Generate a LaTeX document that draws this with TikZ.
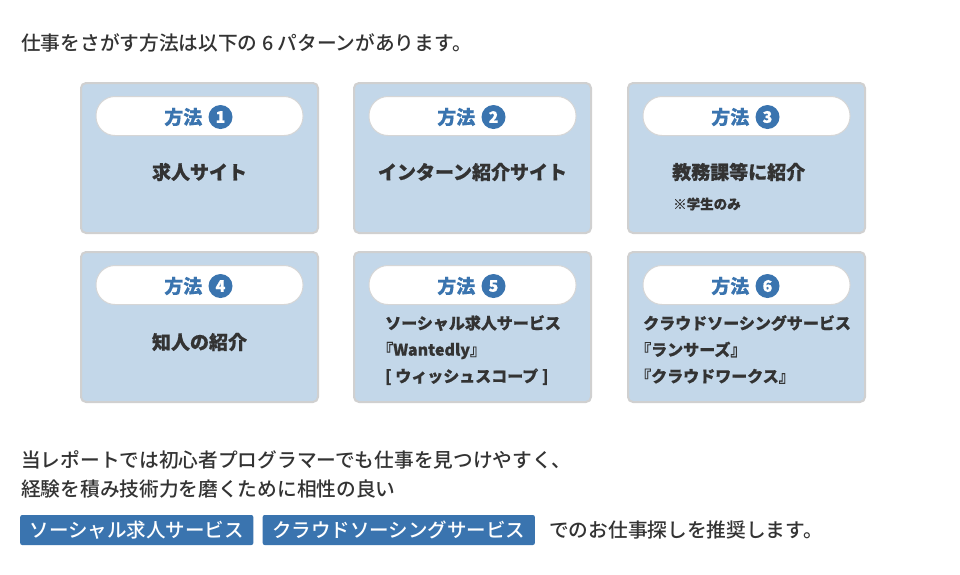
\documentclass[tikz,border=0pt]{standalone}
\usepackage{fontspec}
\setmainfont{Noto Sans CJK JP}
\newfontfamily\medfont{Noto Sans CJK JP Medium}
\newfontfamily\heavyfont{Noto Sans CJK JP}[BoldFeatures={FakeBold=0.6}]
\usetikzlibrary{positioning}
\definecolor{boxblue}{HTML}{C3D7E9}
\definecolor{boxedge}{HTML}{D0D0D0}
\definecolor{pilledge}{HTML}{D6D6D6}
\definecolor{accent}{HTML}{3A74AF}
\definecolor{ink}{HTML}{333333}
\begin{document}
\begin{tikzpicture}[x=1pt,y=-1pt,
  card/.style={draw=boxedge,line width=2pt,fill=boxblue,rounded corners=5pt,
    minimum width=237pt,minimum height=150pt,inner sep=0pt},
  pill/.style={draw=pilledge,line width=1pt,fill=white,rounded corners=19pt,
    minimum width=207pt,minimum height=39pt,inner sep=0pt},
  hofo/.style={text=accent,font=\heavyfont\bfseries\fontsize{19}{19}\selectfont,inner sep=0pt,anchor=east},
  numc/.style={circle,fill=accent,text=white,minimum size=24pt,inner sep=0pt,
    font=\heavyfont\bfseries\fontsize{16}{16}\selectfont},
  big/.style={text=ink,font=\heavyfont\bfseries\fontsize{19}{19}\selectfont,inner sep=0pt},
  mid/.style={text=ink,font=\heavyfont\bfseries\fontsize{16}{26.5}\selectfont,inner sep=0pt,align=left,anchor=north west},
  small/.style={text=ink,font=\heavyfont\bfseries\fontsize{13.5}{13.5}\selectfont,inner sep=0pt,anchor=west},
  body/.style={text=ink,font=\medfont\fontsize{19.7}{19.7}\selectfont,inner sep=0pt,anchor=west},
  tag/.style={fill=accent,text=white,rounded corners=2pt,minimum height=30pt,inner xsep=9.5pt,
    inner ysep=0pt,font=\medfont\fontsize{19.5}{19.5}\selectfont},
]
\useasboundingbox (0,0) rectangle (960,574);
\fill[white] (0,0) rectangle (960,574);

\node[body] (title) at (21,43) {仕事をさがす方法は以下の 6 パターンがあります。};

% cards
\node[card] (c1) at (199.5,158) {};
\node[card] (c2) at (472.5,158) {};
\node[card] (c3) at (746.5,158) {};
\node[card] (c4) at (199.5,327) {};
\node[card] (c5) at (472.5,327) {};
\node[card] (c6) at (746.5,327) {};

% pills
\node[pill] (p1) at (199.5,116) {};
\node[pill] (p2) at (472.5,116) {};
\node[pill] (p3) at (746.5,116) {};
\node[pill] (p4) at (199.5,285) {};
\node[pill] (p5) at (472.5,285) {};
\node[pill] (p6) at (746.5,285) {};

\node[hofo] (h1) at (202.5,117) {方法};
\node[numc] (n1) at (220.5,117) {1};
\node[hofo] (h2) at (475.5,117) {方法};
\node[numc] (n2) at (493.5,117) {2};
\node[hofo] (h3) at (749.5,117) {方法};
\node[numc] (n3) at (767.5,117) {3};
\node[hofo] (h4) at (202.5,286) {方法};
\node[numc] (n4) at (220.5,286) {4};
\node[hofo] (h5) at (475.5,286) {方法};
\node[numc] (n5) at (493.5,286) {5};
\node[hofo] (h6) at (749.5,286) {方法};
\node[numc] (n6) at (767.5,286) {6};

% contents
\node[big] (t1) at (199.5,172) {求人サイト};
\node[big] (t2) at (472.5,172) {インターン紹介サイト};
\node[big,anchor=west] (t3) at (672,172) {教務課等に紹介};
\node[small] (t3b) at (673,204) {※学生のみ};
\node[big] (t4) at (199.5,342) {知人の紹介};
\node[mid] (t5) at (385,315) {ソーシャル求人サービス\\\kern-0.5em『Wantedly』\\{[} ウィッシュスコープ {]}};
\node[mid] (t6) at (643,315) {クラウドソーシングサービス\\\kern-0.5em『ランサーズ』\\\kern-0.5em『クラウドワークス』};

% bottom text
\node[body] (b1) at (21,460) {当レポートでは初心者プログラマーでも仕事を見つけやすく、};
\node[body] (b2) at (21,489) {経験を積み技術力を磨くために相性の良い};
\node[tag,anchor=west] (g1) at (20,530) {ソーシャル求人サービス};
\node[tag,right=9pt of g1] (g2) {クラウドソーシングサービス};
\node[body,right=14pt of g2] (b3) {でのお仕事探しを推奨します。};
\end{tikzpicture}
\end{document}
